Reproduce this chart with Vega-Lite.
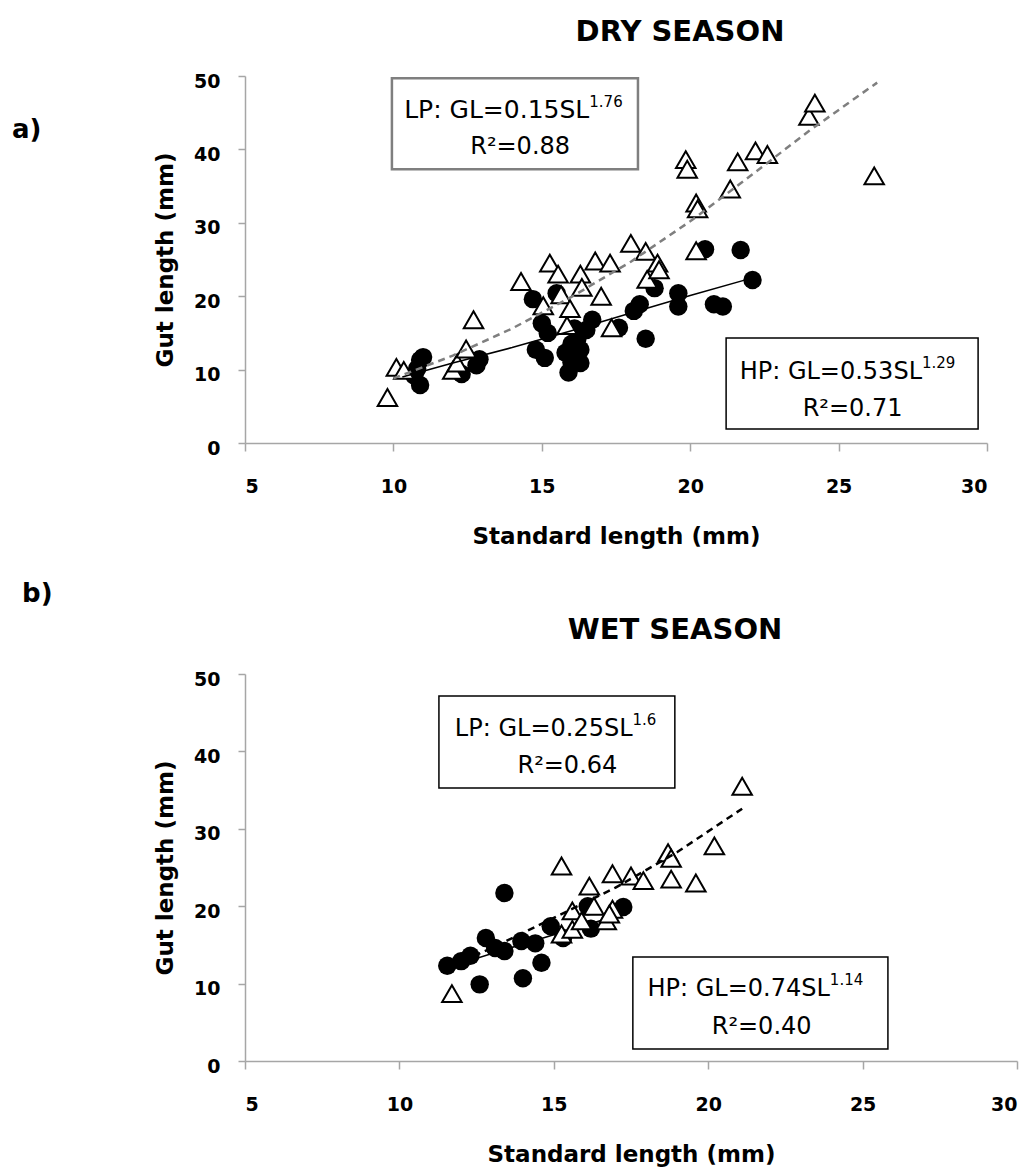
{
  "$schema": "https://vega.github.io/schema/vega-lite/v6.json",
  "background": "white",
  "padding": {"left": 12, "top": 18, "right": 4, "bottom": 6},
  "bounds": "flush",
  "spacing": 231,
  "config": {
    "font": "DejaVu Sans",
    "view": {"stroke": null},
    "axis": {
      "grid": false,
      "domainColor": "#a6a6a6",
      "tickColor": "#a6a6a6",
      "domainWidth": 1.5,
      "tickWidth": 1.5,
      "labelFont": "DejaVu Sans",
      "labelFontWeight": "bold",
      "labelFontSize": 19,
      "labelColor": "#000000",
      "titleFont": "DejaVu Sans",
      "titleFontWeight": "bold",
      "titleFontSize": 23,
      "titleColor": "#000000"
    },
    "axisX": {"tickSize": 8, "labelPadding": 26, "titlePadding": 29},
    "axisY": {"tickSize": 7, "labelPadding": 18, "titlePadding": 16, "labelOffset": 5},
    "title": {"font": "DejaVu Sans", "fontSize": 29, "fontWeight": "bold", "color": "#000000"}
  },
  "datasets": {
    "dry": [
      {"SL": 10.7, "GL": 9.2, "group": "HP"}, {"SL": 10.8, "GL": 10.1, "group": "HP"}, {"SL": 10.9, "GL": 11.3, "group": "HP"},
      {"SL": 11.0, "GL": 11.7, "group": "HP"}, {"SL": 10.9, "GL": 7.9, "group": "HP"}, {"SL": 12.3, "GL": 9.4, "group": "HP"},
      {"SL": 12.8, "GL": 10.6, "group": "HP"}, {"SL": 12.9, "GL": 11.4, "group": "HP"}, {"SL": 14.7, "GL": 19.6, "group": "HP"},
      {"SL": 14.8, "GL": 12.7, "group": "HP"}, {"SL": 15.0, "GL": 16.3, "group": "HP"}, {"SL": 15.2, "GL": 15.0, "group": "HP"},
      {"SL": 15.1, "GL": 11.6, "group": "HP"}, {"SL": 15.5, "GL": 20.4, "group": "HP"}, {"SL": 15.9, "GL": 9.6, "group": "HP"},
      {"SL": 16.0, "GL": 11.0, "group": "HP"}, {"SL": 16.0, "GL": 13.5, "group": "HP"}, {"SL": 16.1, "GL": 15.6, "group": "HP"},
      {"SL": 16.3, "GL": 12.7, "group": "HP"}, {"SL": 16.3, "GL": 10.9, "group": "HP"}, {"SL": 16.5, "GL": 15.4, "group": "HP"},
      {"SL": 16.7, "GL": 16.8, "group": "HP"}, {"SL": 15.8, "GL": 12.3, "group": "HP"}, {"SL": 16.2, "GL": 14.2, "group": "HP"},
      {"SL": 17.6, "GL": 15.7, "group": "HP"}, {"SL": 18.1, "GL": 18.0, "group": "HP"}, {"SL": 18.3, "GL": 18.9, "group": "HP"},
      {"SL": 18.5, "GL": 14.2, "group": "HP"}, {"SL": 18.8, "GL": 21.1, "group": "HP"}, {"SL": 19.6, "GL": 20.4, "group": "HP"},
      {"SL": 19.6, "GL": 18.6, "group": "HP"}, {"SL": 20.5, "GL": 26.4, "group": "HP"}, {"SL": 20.8, "GL": 18.9, "group": "HP"},
      {"SL": 21.1, "GL": 18.6, "group": "HP"}, {"SL": 21.7, "GL": 26.3, "group": "HP"}, {"SL": 22.1, "GL": 22.2, "group": "HP"},
      {"SL": 9.8, "GL": 6.2, "group": "LP"}, {"SL": 10.1, "GL": 10.3, "group": "LP"}, {"SL": 10.35, "GL": 9.9, "group": "LP"},
      {"SL": 12.0, "GL": 9.9, "group": "LP"}, {"SL": 12.15, "GL": 10.9, "group": "LP"}, {"SL": 12.45, "GL": 12.8, "group": "LP"},
      {"SL": 12.7, "GL": 16.8, "group": "LP"}, {"SL": 14.3, "GL": 22.0, "group": "LP"}, {"SL": 15.05, "GL": 18.7, "group": "LP"},
      {"SL": 15.27, "GL": 24.5, "group": "LP"}, {"SL": 15.55, "GL": 23.0, "group": "LP"}, {"SL": 15.65, "GL": 20.2, "group": "LP"},
      {"SL": 15.85, "GL": 16.0, "group": "LP"}, {"SL": 15.95, "GL": 18.3, "group": "LP"}, {"SL": 16.3, "GL": 23.0, "group": "LP"},
      {"SL": 16.35, "GL": 21.2, "group": "LP"}, {"SL": 16.8, "GL": 24.8, "group": "LP"}, {"SL": 17.0, "GL": 20.0, "group": "LP"},
      {"SL": 17.3, "GL": 24.5, "group": "LP"}, {"SL": 17.35, "GL": 15.7, "group": "LP"}, {"SL": 18.0, "GL": 27.2, "group": "LP"},
      {"SL": 18.5, "GL": 26.1, "group": "LP"}, {"SL": 18.55, "GL": 22.3, "group": "LP"}, {"SL": 18.9, "GL": 24.5, "group": "LP"},
      {"SL": 18.95, "GL": 23.6, "group": "LP"}, {"SL": 19.85, "GL": 38.6, "group": "LP"}, {"SL": 19.9, "GL": 37.3, "group": "LP"},
      {"SL": 20.2, "GL": 32.7, "group": "LP"}, {"SL": 20.25, "GL": 31.9, "group": "LP"}, {"SL": 20.2, "GL": 26.2, "group": "LP"},
      {"SL": 21.35, "GL": 34.6, "group": "LP"}, {"SL": 21.6, "GL": 38.3, "group": "LP"}, {"SL": 22.2, "GL": 39.8, "group": "LP"},
      {"SL": 22.6, "GL": 39.3, "group": "LP"}, {"SL": 24.0, "GL": 44.5, "group": "LP"}, {"SL": 24.2, "GL": 46.3, "group": "LP"},
      {"SL": 26.2, "GL": 36.4, "group": "LP"}
    ],
    "dryfit": [
      {"SL": 10.3, "GL": 9.0, "group": "HP"}, {"SL": 12, "GL": 10.9, "group": "HP"}, {"SL": 14, "GL": 13.0, "group": "HP"},
      {"SL": 16, "GL": 15.3, "group": "HP"}, {"SL": 18, "GL": 17.7, "group": "HP"}, {"SL": 20, "GL": 20.1, "group": "HP"},
      {"SL": 22.1, "GL": 22.5, "group": "HP"},
      {"SL": 10.0, "GL": 8.8, "group": "LP"}, {"SL": 12, "GL": 11.9, "group": "LP"}, {"SL": 14, "GL": 15.6, "group": "LP"},
      {"SL": 16, "GL": 19.9, "group": "LP"}, {"SL": 18, "GL": 24.7, "group": "LP"}, {"SL": 20, "GL": 30.2, "group": "LP"},
      {"SL": 22, "GL": 36.3, "group": "LP"}, {"SL": 24, "GL": 42.5, "group": "LP"}, {"SL": 26.3, "GL": 49.1, "group": "LP"}
    ],
    "wet": [
      {"SL": 11.55, "GL": 12.3, "group": "HP"}, {"SL": 12.0, "GL": 12.9, "group": "HP"}, {"SL": 12.3, "GL": 13.6, "group": "HP"},
      {"SL": 12.6, "GL": 9.9, "group": "HP"}, {"SL": 12.8, "GL": 15.9, "group": "HP"}, {"SL": 13.1, "GL": 14.6, "group": "HP"},
      {"SL": 13.4, "GL": 21.7, "group": "HP"}, {"SL": 13.4, "GL": 14.2, "group": "HP"}, {"SL": 13.95, "GL": 15.5, "group": "HP"},
      {"SL": 14.0, "GL": 10.7, "group": "HP"}, {"SL": 14.4, "GL": 15.2, "group": "HP"}, {"SL": 14.6, "GL": 12.7, "group": "HP"},
      {"SL": 14.9, "GL": 17.4, "group": "HP"}, {"SL": 15.3, "GL": 15.9, "group": "HP"}, {"SL": 16.2, "GL": 17.1, "group": "HP"},
      {"SL": 16.1, "GL": 20.0, "group": "HP"}, {"SL": 17.25, "GL": 19.9, "group": "HP"},
      {"SL": 11.7, "GL": 8.7, "group": "LP"}, {"SL": 15.25, "GL": 25.2, "group": "LP"}, {"SL": 16.15, "GL": 22.6, "group": "LP"},
      {"SL": 15.6, "GL": 19.4, "group": "LP"}, {"SL": 16.3, "GL": 20.0, "group": "LP"}, {"SL": 16.9, "GL": 19.6, "group": "LP"},
      {"SL": 15.25, "GL": 16.4, "group": "LP"}, {"SL": 15.6, "GL": 17.0, "group": "LP"}, {"SL": 15.9, "GL": 18.1, "group": "LP"},
      {"SL": 16.7, "GL": 18.1, "group": "LP"}, {"SL": 16.8, "GL": 19.0, "group": "LP"}, {"SL": 16.9, "GL": 24.2, "group": "LP"},
      {"SL": 17.5, "GL": 23.9, "group": "LP"}, {"SL": 17.9, "GL": 23.3, "group": "LP"}, {"SL": 18.7, "GL": 26.9, "group": "LP"},
      {"SL": 18.8, "GL": 26.2, "group": "LP"}, {"SL": 18.8, "GL": 23.5, "group": "LP"}, {"SL": 19.6, "GL": 23.0, "group": "LP"},
      {"SL": 20.2, "GL": 27.8, "group": "LP"}, {"SL": 21.1, "GL": 35.5, "group": "LP"}
    ],
    "wetfit": [
      {"SL": 11.5, "GL": 12.0, "group": "HP"}, {"SL": 13, "GL": 13.9, "group": "HP"}, {"SL": 15, "GL": 16.3, "group": "HP"},
      {"SL": 17.3, "GL": 19.1, "group": "HP"},
      {"SL": 11.7, "GL": 12.3, "group": "LP"}, {"SL": 13, "GL": 14.6, "group": "LP"}, {"SL": 15, "GL": 18.5, "group": "LP"},
      {"SL": 17, "GL": 22.4, "group": "LP"}, {"SL": 19, "GL": 27.0, "group": "LP"}, {"SL": 21.1, "GL": 32.6, "group": "LP"}
    ]
  },
  "vconcat": [
    {
      "width": 742,
      "height": 367,
      "title": {"text": "DRY SEASON", "dx": 64, "offset": 25},
      "layer": [
        {
          "data": {"name": "dry"},
          "transform": [{"filter": "datum.group === 'HP'"}],
          "mark": {"type": "circle", "size": 340, "color": "#000000", "opacity": 1},
          "encoding": {
            "x": {"field": "SL", "type": "quantitative", "scale": {"domain": [5, 30], "padding": 0, "nice": false, "zero": false}, "axis": {"values": [5, 10, 15, 20, 25, 30], "title": "Standard length (mm)"}},
            "y": {"field": "GL", "type": "quantitative", "scale": {"domain": [0, 50], "padding": 0, "nice": false}, "axis": {"values": [0, 10, 20, 30, 40, 50], "title": "Gut length (mm)"}}
          }
        },
        {
          "data": {"name": "dry"},
          "transform": [{"filter": "datum.group === 'LP'"}],
          "mark": {"type": "point", "shape": "triangle-up", "filled": true, "fill": "#ffffff", "stroke": "#000000", "strokeWidth": 2, "size": 380, "opacity": 1},
          "encoding": {
            "x": {"field": "SL", "type": "quantitative", "title": "Standard length (mm)"},
            "y": {"field": "GL", "type": "quantitative", "title": "Gut length (mm)"}
          }
        },
        {
          "data": {"name": "dryfit"},
          "transform": [{"filter": "datum.group === 'LP'"}],
          "mark": {"type": "line", "color": "#7f7f7f", "strokeWidth": 2.5, "strokeDash": [7, 5]},
          "encoding": {
            "x": {"field": "SL", "type": "quantitative", "title": "Standard length (mm)"},
            "y": {"field": "GL", "type": "quantitative", "title": "Gut length (mm)"}
          }
        },
        {
          "data": {"name": "dryfit"},
          "transform": [{"filter": "datum.group === 'HP'"}],
          "mark": {"type": "line", "color": "#000000", "strokeWidth": 1.5},
          "encoding": {
            "x": {"field": "SL", "type": "quantitative", "title": "Standard length (mm)"},
            "y": {"field": "GL", "type": "quantitative", "title": "Gut length (mm)"}
          }
        },
        {
          "data": {"values": [{}]},
          "mark": {"type": "rect", "fill": "#ffffff", "stroke": "#7f7f7f", "strokeWidth": 2.5},
          "encoding": {"x": {"datum": 9.95}, "x2": {"datum": 18.24}, "y": {"datum": 49.7}, "y2": {"datum": 37.3}}
        },
        {
          "data": {"values": [{}]},
          "mark": {"type": "rect", "fill": "#ffffff", "stroke": "#000000", "strokeWidth": 1.5},
          "encoding": {"x": {"datum": 21.21}, "x2": {"datum": 29.7}, "y": {"datum": 14.3}, "y2": {"datum": 1.9}}
        },
        {
          "data": {"values": [{}]},
          "mark": {"type": "text", "align": "right", "baseline": "alphabetic", "fontSize": 25, "color": "#000000"},
          "encoding": {"x": {"datum": 16.6}, "y": {"datum": 44.3}, "text": {"value": "LP: GL=0.15SL"}}
        },
        {
          "data": {"values": [{}]},
          "mark": {"type": "text", "align": "left", "baseline": "alphabetic", "fontSize": 15, "dy": -11, "color": "#000000"},
          "encoding": {"x": {"datum": 16.6}, "y": {"datum": 44.3}, "text": {"value": "1.76"}}
        },
        {
          "data": {"values": [{}]},
          "mark": {"type": "text", "align": "center", "baseline": "alphabetic", "fontSize": 24, "color": "#000000"},
          "encoding": {"x": {"datum": 14.27}, "y": {"datum": 39.4}, "text": {"value": "R²=0.88"}}
        },
        {
          "data": {"values": [{}]},
          "mark": {"type": "text", "align": "right", "baseline": "alphabetic", "fontSize": 24, "color": "#000000"},
          "encoding": {"x": {"datum": 27.81}, "y": {"datum": 8.7}, "text": {"value": "HP: GL=0.53SL"}}
        },
        {
          "data": {"values": [{}]},
          "mark": {"type": "text", "align": "left", "baseline": "alphabetic", "fontSize": 15, "dy": -11, "color": "#000000"},
          "encoding": {"x": {"datum": 27.81}, "y": {"datum": 8.7}, "text": {"value": "1.29"}}
        },
        {
          "data": {"values": [{}]},
          "mark": {"type": "text", "align": "center", "baseline": "alphabetic", "fontSize": 24, "color": "#000000"},
          "encoding": {"x": {"datum": 25.47}, "y": {"datum": 3.7}, "text": {"value": "R²=0.71"}}
        },
        {
          "data": {"values": [{}]},
          "mark": {"type": "text", "align": "left", "baseline": "middle", "fontSize": 26, "fontWeight": "bold", "color": "#000000"},
          "encoding": {"x": {"datum": -2.85}, "y": {"datum": 42.6}, "text": {"value": "a)"}}
        },
        {
          "data": {"values": [{}]},
          "mark": {"type": "text", "align": "left", "baseline": "middle", "fontSize": 26, "fontWeight": "bold", "color": "#000000"},
          "encoding": {"x": {"datum": -2.51}, "y": {"datum": -20.6}, "text": {"value": "b)"}}
        }
      ]
    },
    {
      "width": 772,
      "height": 387,
      "title": {"text": "WET SEASON", "dx": 44, "offset": 25},
      "layer": [
        {
          "data": {"name": "wet"},
          "transform": [{"filter": "datum.group === 'HP'"}],
          "mark": {"type": "circle", "size": 340, "color": "#000000", "opacity": 1},
          "encoding": {
            "x": {"field": "SL", "type": "quantitative", "scale": {"domain": [5, 30], "padding": 0, "nice": false, "zero": false}, "axis": {"values": [5, 10, 15, 20, 25, 30], "title": "Standard length (mm)"}},
            "y": {"field": "GL", "type": "quantitative", "scale": {"domain": [0, 50], "padding": 0, "nice": false}, "axis": {"values": [0, 10, 20, 30, 40, 50], "title": "Gut length (mm)"}}
          }
        },
        {
          "data": {"name": "wetfit"},
          "transform": [{"filter": "datum.group === 'HP'"}],
          "mark": {"type": "line", "color": "#000000", "strokeWidth": 1.5},
          "encoding": {
            "x": {"field": "SL", "type": "quantitative", "title": "Standard length (mm)"},
            "y": {"field": "GL", "type": "quantitative", "title": "Gut length (mm)"}
          }
        },
        {
          "data": {"name": "wet"},
          "transform": [{"filter": "datum.group === 'LP'"}],
          "mark": {"type": "point", "shape": "triangle-up", "filled": true, "fill": "#ffffff", "stroke": "#000000", "strokeWidth": 2, "size": 380, "opacity": 1},
          "encoding": {
            "x": {"field": "SL", "type": "quantitative", "title": "Standard length (mm)"},
            "y": {"field": "GL", "type": "quantitative", "title": "Gut length (mm)"}
          }
        },
        {
          "data": {"name": "wetfit"},
          "transform": [{"filter": "datum.group === 'LP'"}],
          "mark": {"type": "line", "color": "#000000", "strokeWidth": 2.5, "strokeDash": [7, 5]},
          "encoding": {
            "x": {"field": "SL", "type": "quantitative", "title": "Standard length (mm)"},
            "y": {"field": "GL", "type": "quantitative", "title": "Gut length (mm)"}
          }
        },
        {
          "data": {"values": [{}]},
          "mark": {"type": "rect", "fill": "#ffffff", "stroke": "#000000", "strokeWidth": 1.5},
          "encoding": {"x": {"datum": 11.28}, "x2": {"datum": 18.92}, "y": {"datum": 47.16}, "y2": {"datum": 35.27}}
        },
        {
          "data": {"values": [{}]},
          "mark": {"type": "rect", "fill": "#ffffff", "stroke": "#000000", "strokeWidth": 1.5},
          "encoding": {"x": {"datum": 17.56}, "x2": {"datum": 25.82}, "y": {"datum": 13.44}, "y2": {"datum": 1.55}}
        },
        {
          "data": {"values": [{}]},
          "mark": {"type": "text", "align": "right", "baseline": "alphabetic", "fontSize": 24, "color": "#000000"},
          "encoding": {"x": {"datum": 17.55}, "y": {"datum": 42.0}, "text": {"value": "LP: GL=0.25SL"}}
        },
        {
          "data": {"values": [{}]},
          "mark": {"type": "text", "align": "left", "baseline": "alphabetic", "fontSize": 15, "dy": -11, "color": "#000000"},
          "encoding": {"x": {"datum": 17.55}, "y": {"datum": 42.0}, "text": {"value": "1.6"}}
        },
        {
          "data": {"values": [{}]},
          "mark": {"type": "text", "align": "center", "baseline": "alphabetic", "fontSize": 24, "color": "#000000"},
          "encoding": {"x": {"datum": 15.44}, "y": {"datum": 37.2}, "text": {"value": "R²=0.64"}}
        },
        {
          "data": {"values": [{}]},
          "mark": {"type": "text", "align": "right", "baseline": "alphabetic", "fontSize": 24, "color": "#000000"},
          "encoding": {"x": {"datum": 23.94}, "y": {"datum": 8.4}, "text": {"value": "HP: GL=0.74SL"}}
        },
        {
          "data": {"values": [{}]},
          "mark": {"type": "text", "align": "left", "baseline": "alphabetic", "fontSize": 15, "dy": -11, "color": "#000000"},
          "encoding": {"x": {"datum": 23.94}, "y": {"datum": 8.4}, "text": {"value": "1.14"}}
        },
        {
          "data": {"values": [{}]},
          "mark": {"type": "text", "align": "center", "baseline": "alphabetic", "fontSize": 24, "color": "#000000"},
          "encoding": {"x": {"datum": 21.73}, "y": {"datum": 3.5}, "text": {"value": "R²=0.40"}}
        }
      ]
    }
  ]
}
